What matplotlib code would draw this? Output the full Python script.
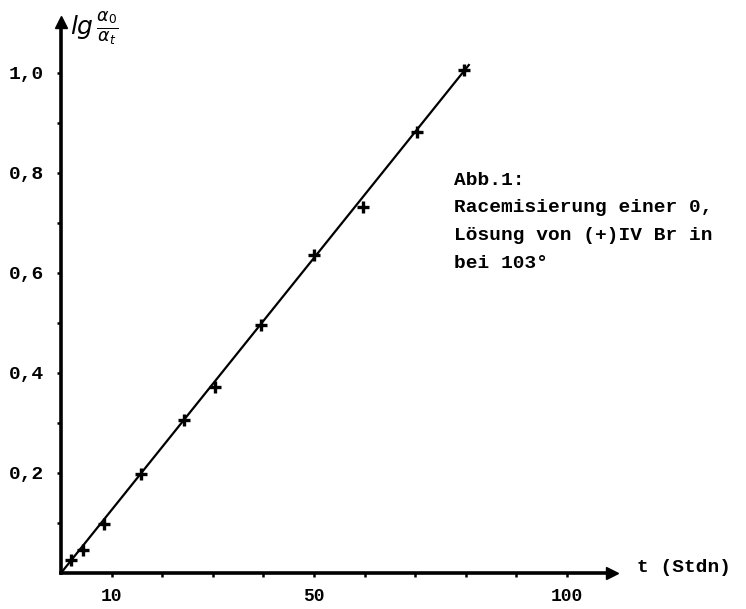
import matplotlib
matplotlib.use("Agg")
import matplotlib.pyplot as plt

# data
t_hours = [1.9, 4.3, 8.4, 15.9, 24.3, 30.4, 39.5, 50.0, 59.7, 70.3, 79.6]
lg_ratio = [0.026, 0.046, 0.099, 0.198, 0.307, 0.373, 0.496, 0.636, 0.733, 0.883, 1.007]
fit_t = [0.0, 80.6]
fit_y = [0.0, 1.016]

x_major = [10, 50, 100]
x_major_labels = ["10", "50", "100"]
x_minor = [20, 30, 40, 60, 70, 80, 90]
y_major = [0.2, 0.4, 0.6, 0.8, 1.0]
y_major_labels = ["0,2", "0,4", "0,6", "0,8", "1,0"]
y_minor = [0.1, 0.3, 0.5, 0.7, 0.9]

FONT = "Liberation Mono"

fig = plt.figure(figsize=(7.46, 6.09), dpi=100)
W, H = 746, 609
left, right = 61, 612
bottom_px, top_px = 573, 22
ax = fig.add_axes([left / W, 1 - bottom_px / H, (right - left) / W, (bottom_px - top_px) / H])

ax.set_xlim(0, (right - left) / 5.06)
ax.set_ylim(0, (bottom_px - top_px) / 500.0)

for s in ["top", "right"]:
    ax.spines[s].set_visible(False)
for s in ["left", "bottom"]:
    ax.spines[s].set_linewidth(2.6)
    ax.spines[s].set_color("black")

# arrow heads
ax.plot(1, 0, marker=">", color="black", markersize=9, transform=ax.get_yaxis_transform(), clip_on=False)
ax.plot(0, 1, marker="^", color="black", markersize=8, transform=ax.get_xaxis_transform(), clip_on=False)

# fit line and points
ax.plot(fit_t, fit_y, color="black", linewidth=1.6, clip_on=False)
ax.plot(t_hours, lg_ratio, linestyle="none", marker="+", color="black",
        markersize=9, markeredgewidth=2.4, clip_on=False)

ax.set_xticks(x_major)
ax.set_xticklabels(x_major_labels)
ax.set_xticks(x_minor, minor=True)
ax.set_yticks(y_major)
ax.set_yticklabels(y_major_labels)
ax.set_yticks(y_minor, minor=True)

ax.tick_params(axis="both", which="both", direction="out", length=3, width=1.8, color="black")
ax.tick_params(axis="x", which="major", pad=8)
ax.tick_params(axis="y", which="major", pad=9)
for lab in ax.get_yticklabels():
    lab.set_fontfamily(FONT)
    lab.set_fontweight("bold")
    lab.set_fontsize(14)
for lab in ax.get_xticklabels():
    lab.set_fontfamily(FONT)
    lab.set_fontweight("bold")
    lab.set_fontsize(13)

# axis labels
fig.text(70 / W, 1 - 28 / H, r"$\mathit{lg}\,\frac{\alpha_0}{\alpha_t}$", fontsize=18,
         ha="left", va="center")
fig.text(637 / W, 1 - 568 / H, "t (Stdn)", fontfamily=FONT, fontweight="bold",
         fontsize=14, ha="left", va="center")

# caption
caption = ["Abb.1:", "Racemisierung einer 0,", "Lösung von (+)IV Br in", "bei 103°"]
ys = [180, 208, 236, 263]
for line, yy in zip(caption, ys):
    fig.text(454 / W, 1 - yy / H, line, fontfamily=FONT, fontweight="bold",
             fontsize=14, ha="left", va="center")

fig.savefig("out.png", dpi=100)
